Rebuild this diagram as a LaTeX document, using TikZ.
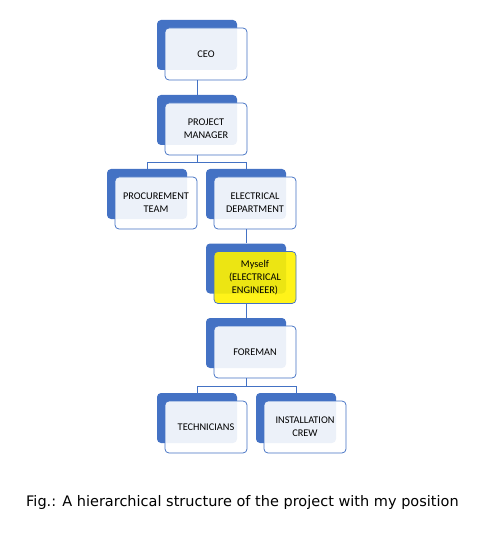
\documentclass[tikz,border=0pt]{standalone}
\usepackage{fontspec}
\setmainfont{Carlito}
\newfontfamily\capfont{DejaVu Sans}
\definecolor{orgblue}{HTML}{4472C4}
\definecolor{txt}{HTML}{000000}
\tikzset{
  backbox/.style={draw=none, fill=orgblue, rounded corners=4pt, minimum width=80pt, minimum height=50pt, inner sep=0pt},
  frontbox/.style={draw=orgblue, line width=0.75pt, fill=#1, fill opacity=0.9, text opacity=1, rounded corners=4pt, minimum width=82pt, minimum height=52pt, inner sep=0pt, align=center, font=\fontsize{10.3}{13}\selectfont, text=txt},
  frontbox/.default=white,
  link/.style={draw=orgblue, line width=0.75pt}
}
\newcommand\orgbox[5][white]{%
  \node[backbox] (#2b) at (#3,#4) {};
  \node[frontbox=#1] (#2f) at ($(#3,#4)+(9,9)$) {#5};
}
\usetikzlibrary{calc}
\begin{document}
\begin{tikzpicture}[x=1pt,y=-1pt]
\useasboundingbox (0,0) rectangle (488,537);
\orgbox{ceo}{197}{45}{CEO}
\orgbox{pm}{197}{120}{PROJECT\\MANAGER}
\orgbox{proc}{147}{194}{PROCUREMENT\\TEAM}
\orgbox{elec}{246}{194}{ELECTRICAL\\DEPARTMENT}
\orgbox[yellow]{me}{246}{268.5}{Myself\\(ELECTRICAL\\ENGINEER)}
\orgbox{fore}{246}{343}{FOREMAN}
\orgbox{tech}{197}{418}{TECHNICIANS}
\orgbox{inst}{296}{418}{INSTALLATION\\CREW}
\draw[link] (ceob.center |- ceof.south) -- (pmb.north);
\draw[link] (pmb.center |- pmf.south) -- ++(0,7) -| (procb.north);
\draw[link] (pmb.center |- pmf.south) -- ++(0,7) -| (elecb.north);
\draw[link] (elecb.center |- elecf.south) -- (meb.north);
\draw[link] (meb.center |- mef.south) -- (foreb.north);
\draw[link] (foreb.center |- foref.south) -- ++(0,8) -| (techb.north);
\draw[link] (foreb.center |- foref.south) -- ++(0,8) -| (instb.north);
\node[anchor=base west, inner sep=0pt, font=\capfont\fontsize{14.5}{17}\selectfont, text=txt] (cap) at (26,506) {Fig.: A hierarchical structure of the project with my position};
\end{tikzpicture}
\end{document}
